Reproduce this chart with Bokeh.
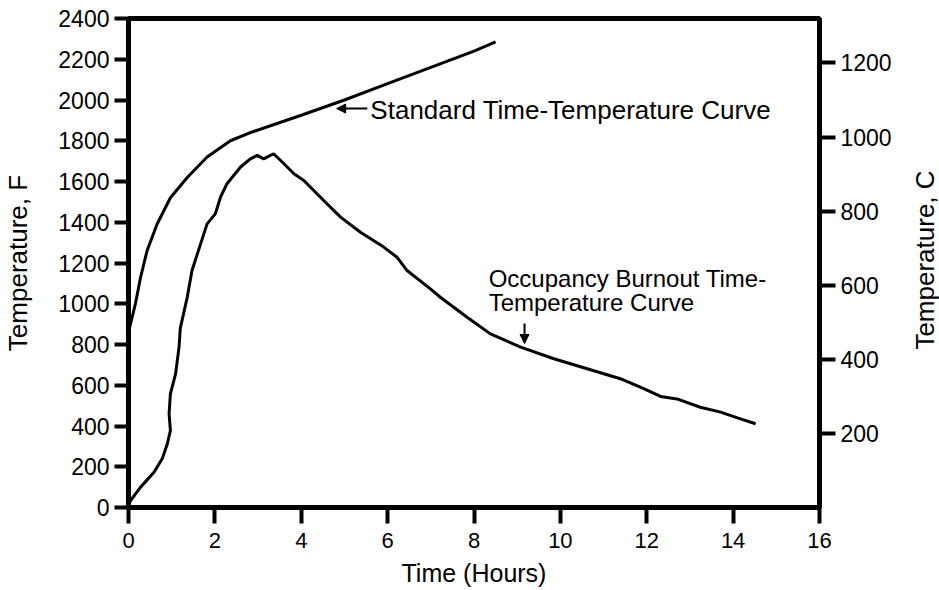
import math
from bokeh.plotting import figure
from bokeh.layouts import row
from bokeh.models import Range1d, LinearAxis, FixedTicker, Arrow, NormalHead, Label
from bokeh.embed import file_html
from bokeh.resources import INLINE

# Standard time-temperature curve (hours, deg F)
std_hours = [0.0, 0.16, 0.28, 0.43, 0.66, 0.97, 1.36, 1.82, 2.36, 2.82, 4.0, 5.0, 6.0, 7.0, 8.0, 8.5]
std_temp_f = [860, 1000, 1130, 1260, 1390, 1520, 1620, 1720, 1800, 1840, 1925, 2000, 2080, 2160, 2240, 2285]

# Occupancy burnout time-temperature curve (hours, deg F)
occ_hours = [0.0, 0.28, 0.59, 0.78, 0.90, 0.97, 0.94, 0.97, 1.09, 1.17, 1.20, 1.36, 1.47, 1.67,
             1.82, 2.01, 2.13, 2.28, 2.59, 2.82, 2.98, 3.13, 3.36, 3.60, 3.83, 4.06, 4.52, 4.91,
             5.37, 5.91, 6.22, 6.45, 6.99, 7.22, 7.84, 8.38, 9.08, 9.85, 10.62, 11.39, 11.93,
             12.32, 12.70, 13.24, 13.71, 14.17, 14.52]
occ_temp_f = [20, 100, 173, 239, 313, 378, 460, 558, 656, 787, 880, 1032, 1163, 1294,
              1392, 1441, 1523, 1589, 1670, 1711, 1728, 1711, 1736, 1687, 1638, 1605, 1507, 1425,
              1351, 1278, 1228, 1163, 1073, 1032, 934, 852, 787, 730, 681, 632, 583,
              545, 533, 492, 468, 435, 411]

hour_ticks = list(range(0, 17, 2))
f_ticks = list(range(0, 2401, 200))
c_ticks = [200, 400, 600, 800, 1000, 1200]

FONT = "Liberation Sans"

p = figure(frame_width=691, frame_height=489, output_backend="svg", toolbar_location=None,
           x_range=Range1d(0, 16), y_range=Range1d(0, 2400),
           min_border_left=126, min_border_right=82, min_border_top=18, min_border_bottom=70)
p.xgrid.visible = False
p.ygrid.visible = False
p.outline_line_color = "black"
p.outline_line_width = 5
p.outline_line_alpha = 1.0

p.extra_y_ranges = {"c": Range1d(0, 1320)}
right_axis = LinearAxis(y_range_name="c", ticker=FixedTicker(ticks=c_ticks))
p.add_layout(right_axis, "right")

p.xaxis.ticker = FixedTicker(ticks=hour_ticks)
p.xaxis.axis_label = "Time (Hours)"
p.yaxis[0].ticker = FixedTicker(ticks=f_ticks)
p.yaxis[0].axis_label = "Temperature, F"

for ax in [p.xaxis[0], p.yaxis[0], right_axis]:
    ax.axis_line_width = 5
    ax.axis_line_color = "black"
    ax.major_tick_line_width = 4
    ax.major_tick_line_color = "black"
    ax.major_tick_out = 14
    ax.major_tick_in = 0
    ax.minor_tick_line_color = None
    ax.major_label_text_font = FONT
    ax.major_label_text_font_size = "23px"
    ax.major_label_text_color = "black"
    ax.axis_label_text_font = FONT
    ax.axis_label_text_font_size = "26px"
    ax.axis_label_text_font_style = "normal"
    ax.axis_label_text_color = "black"

p.xaxis.major_tick_out = 16
p.xaxis.major_label_text_font_size = "22px"
p.xaxis.major_label_standoff = 9
p.xaxis.axis_label_text_font_size = "25px"
p.xaxis.axis_label_standoff = 8
p.yaxis[0].major_label_standoff = 5
p.yaxis[0].axis_label_standoff = 22
right_axis.major_tick_out = 16
right_axis.major_label_standoff = 5

p.line(std_hours, std_temp_f, line_width=3, line_color="black")
p.line(occ_hours, occ_temp_f, line_width=3, line_color="black")

p.add_layout(Label(x=5.6, y=1950, text="Standard Time-Temperature Curve",
                   text_baseline="middle", text_align="left",
                   text_font=FONT, text_font_size="26px", text_color="black"))
p.add_layout(Arrow(end=NormalHead(size=9, fill_color="black", line_color="black"),
                   x_start=5.53, y_start=1958, x_end=4.82, y_end=1958,
                   line_width=2, line_color="black"))

p.add_layout(Label(x=8.34, y=1124, text="Occupancy Burnout Time-",
                   text_baseline="middle", text_align="left",
                   text_font=FONT, text_font_size="24px", text_color="black"))
p.add_layout(Label(x=8.34, y=1006, text="Temperature Curve",
                   text_baseline="middle", text_align="left",
                   text_font=FONT, text_font_size="24px", text_color="black"))
p.add_layout(Arrow(end=NormalHead(size=9, fill_color="black", line_color="black"),
                   x_start=9.17, y_start=903, x_end=9.17, y_end=805,
                   line_width=2, line_color="black"))

# narrow companion panel holding the right-hand axis title (reads bottom to top)
side = figure(width=38, height=560, output_backend="svg", toolbar_location=None,
              x_range=Range1d(0, 38), y_range=Range1d(560, 0),
              min_border=0, min_border_left=0, min_border_right=0,
              min_border_top=0, min_border_bottom=0)
side.axis.visible = False
side.xgrid.visible = False
side.ygrid.visible = False
side.outline_line_color = None
side.add_layout(Label(x=23, y=294, text="Temperature, C", angle=math.pi / 2,
                      text_baseline="middle", text_align="center",
                      text_font=FONT, text_font_size="26px", text_color="black"))

layout = row(p, side, spacing=0)
open("out.html", "w").write(file_html(layout, INLINE))
